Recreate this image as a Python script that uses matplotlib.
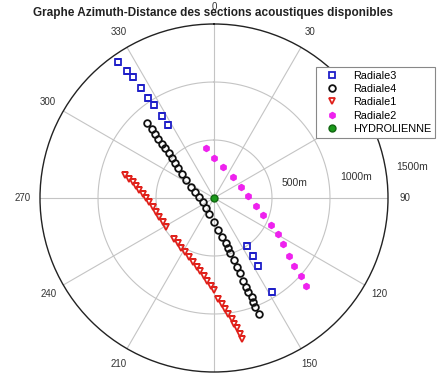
import numpy as np
import matplotlib
matplotlib.use("Agg")
import matplotlib.pyplot as plt

plt.rcParams['font.family'] = ['Liberation Sans', 'DejaVu Sans']

# Azimuth (degrees, clockwise from North) and distance (m)
radiale3_az = [324.9, 325.6, 326.0, 326.4, 326.4, 327.2, 327.9, 328.0,
               145.3, 146.2, 147.1, 148.2]
radiale3_r = [1436, 1331, 1255, 1136, 1032, 954, 838, 743,
              504, 599, 695, 950]

radiale4_az = [318.2, 317.9, 317.2, 316.6, 315.8, 315.4, 315.0, 313.6, 311.7,
               309.7, 306.3, 302.7, 295.9, 286.7, 275.0, 249.2, 220.4, 196.1,
               180.0, 172.3, 168.8, 165.2, 164.1, 163.9, 162.1, 161.7, 161.0,
               160.9, 160.2, 159.9, 159.1, 159.25, 159.3, 158.7]
radiale4_r = [863, 801, 748, 699, 646, 602, 545, 504, 450, 400, 345, 287, 223,
              171, 127, 104, 113, 146, 204, 278, 340, 404, 451, 496, 562, 624,
              687, 757, 813, 860, 911, 956, 1002, 1076]

radiale1_az = [284.5, 282.6, 280.9, 279.0, 276.1, 273.0, 269.7, 266.2, 261.9,
               256.7, 251.1, 245.2, 239.1,
               224.6, 218.9, 213.0, 208.0, 202.8, 198.5, 194.3, 190.8, 187.5,
               184.6, 182.1, 180.0,
               177.6, 175.8, 174.4, 173.0, 171.7, 171.0, 170.1, 169.2, 168.9]
radiale1_r = [792, 748, 714, 681, 648, 616, 586, 559, 534, 514, 498, 487, 482,
              491, 501, 517, 532, 556, 579, 610, 645, 682, 722, 762, 797,
              874, 916, 964, 1008, 1057, 1100, 1140, 1194, 1241]

radiale2_az = [350.9, 0.4, 16.9, 42.1, 67.3, 86.7, 100.4, 109.0, 115.3, 119.7,
               124.0, 127.5, 130.3, 131.9, 133.6]
radiale2_r = [434, 347, 276, 241, 252, 296, 368, 450, 544, 632, 714, 818, 907,
              1007, 1096]

hydro_az = [0.0]
hydro_r = [0.0]

spoke_angles = [0, 30, 60, 90, 120, 150, 180, 210, 240, 270, 300, 330]
# labels visible in the picture (60 hidden by legend, 180 below the frame)
angle_labels = [0, 30, 90, 120, 150, 210, 240, 270, 300, 330]
ring_values = [500, 1000, 1500]
ring_labels = ['500m', '1000m', '1500m']

W, H = 442, 380
fig = plt.figure(figsize=(W / 100, H / 100), dpi=100)
cx, cy, R = 214, 198, 174
ax = fig.add_axes([(cx - R) / W, (H - cy - R) / H, 2 * R / W, 2 * R / H],
                  projection='polar')
ax.set_theta_zero_location('N')
ax.set_theta_direction(-1)
ax.set_rlim(0, 1500)

grid_col = '#c4c4c4'
ax.grid(False)
ax.set_xticks([])
ax.set_yticks([])
th = np.linspace(0, 2 * np.pi, 400)
for rv in ring_values[:-1]:
    ax.plot(th, np.full_like(th, rv), color=grid_col, lw=0.8, zorder=1)
for a in spoke_angles:
    ax.plot([np.deg2rad(a)] * 2, [0, 1500], color=grid_col, lw=0.8, zorder=1)
ax.spines['polar'].set_color('#222222')
ax.spines['polar'].set_linewidth(1.0)

for a in angle_labels:
    ax.text(np.deg2rad(a), 1500 * 1.10, str(a), ha='center', va='center',
            fontsize=7, color='#333333', clip_on=False, zorder=0)

ring_label_pos = [(79.5, 710), (81.6, 1237), (81.1, 1728)]
for (a, rr), lab in zip(ring_label_pos, ring_labels):
    ax.text(np.deg2rad(a), rr, lab, ha='center', va='center', fontsize=7.5,
            color='#333333', clip_on=False)

ms = 4.2
mew = 1.3
ax.plot(np.deg2rad(radiale3_az), radiale3_r, ls='none', marker='s', ms=ms,
        mfc='none', mec='#1f1fc8', mew=mew, label='Radiale3', zorder=3)
ax.plot(np.deg2rad(radiale4_az), radiale4_r, ls='none', marker='o', ms=ms + 0.6,
        mfc='none', mec='#111111', mew=mew, label='Radiale4', zorder=3)
ax.plot(np.deg2rad(radiale1_az), radiale1_r, ls='none', marker='v', ms=ms + 0.8,
        mfc='none', mec='#e0201a', mew=mew, label='Radiale1', zorder=3)
ax.plot(np.deg2rad(radiale2_az), radiale2_r, ls='none', marker='h', ms=ms + 0.4,
        mfc='#ee22ee', mec='#ee22ee', mew=0.8, label='Radiale2', zorder=3)
ax.plot(np.deg2rad(hydro_az), hydro_r, ls='none', marker='o', ms=ms + 0.8,
        mfc='#1a9a1a', mec='#116611', mew=1.0, label='HYDROLIENNE', zorder=4)

leg = fig.legend(loc='upper right', bbox_to_anchor=(435 / W, 1 - 67 / H),
                 fontsize=7.8, frameon=True, fancybox=False, edgecolor='#888888',
                 framealpha=1.0, borderpad=0.35, labelspacing=0.3,
                 handletextpad=0.7, handlelength=2.4, borderaxespad=0)
leg.get_frame().set_linewidth(0.8)

fig.text(213 / W, 1 - 13 / H,
         'Graphe Azimuth-Distance des sections acoustiques disponibles',
         ha='center', va='center', fontsize=8.5, fontweight='bold',
         color='#222222')

fig.savefig('out.png', dpi=100, facecolor='white')
